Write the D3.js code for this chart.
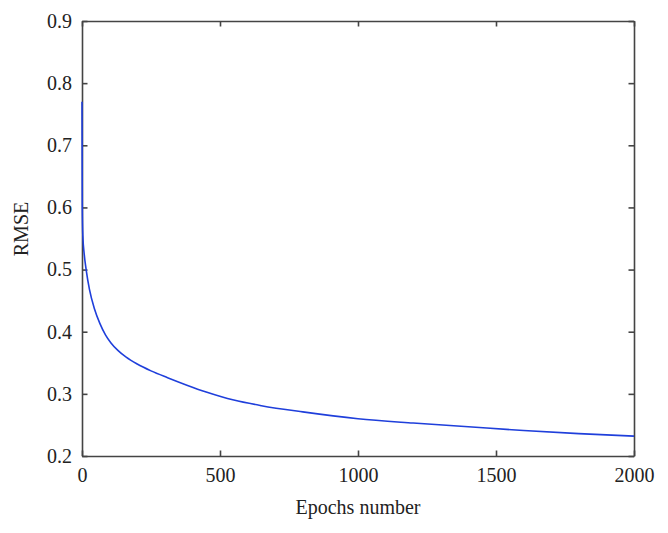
<!DOCTYPE html>
<html>
<head>
<meta charset="utf-8">
<script src="https://cdn.jsdelivr.net/npm/d3@7"></script>
<style>
  body { margin: 0; background: #fff; }
  svg text { font-family: "Liberation Serif", "DejaVu Serif", serif; fill: #222; }
</style>
</head>
<body>
<div id="chart"></div>
<script>
// Data
const epochs = [0, 1, 3, 8, 15, 27, 45, 65, 85, 105, 130, 160, 200, 250, 310, 380, 450, 550, 650, 800, 1000, 1200, 1400, 1600, 1800, 2000]
const rmse = [0.77, 0.60, 0.555, 0.525, 0.50, 0.468, 0.437, 0.413, 0.395, 0.382, 0.370, 0.359, 0.348, 0.337, 0.326, 0.314, 0.303, 0.290, 0.281, 0.271, 0.260, 0.253, 0.247, 0.241, 0.236, 0.232]
const xTicks = [0, 500, 1000, 1500, 2000]
const yTicks = [0.2, 0.3, 0.4, 0.5, 0.6, 0.7, 0.8, 0.9]

const width = 668, height = 533
const margin = {top: 21, right: 34, bottom: 77, left: 82}

const svg = d3.select("#chart").append("svg")
   .attr("width", width)
   .attr("height", height)

const x = d3.scaleLinear().domain([0, 2000]).range([margin.left, width - margin.right])
const y = d3.scaleLinear().domain([0.2, 0.9]).range([height - margin.bottom, margin.top])

const tickLen = 5.5
const axisColor = "#444"

// Inward ticks on all four sides, MATLAB-style box
svg.append("g")
   .attr("transform", `translate(0,${y(0.2)})`)
   .call(d3.axisBottom(x).tickValues(xTicks).tickSizeInner(-tickLen).tickSizeOuter(0).tickPadding(12).tickFormat(d3.format("d")))
svg.append("g")
   .attr("transform", `translate(0,${y(0.9)})`)
   .call(d3.axisTop(x).tickValues(xTicks).tickSizeInner(-tickLen).tickSizeOuter(0).tickFormat(""))
svg.append("g")
   .attr("transform", `translate(${x(0)},0)`)
   .call(d3.axisLeft(y).tickValues(yTicks).tickSizeInner(-tickLen).tickSizeOuter(0).tickPadding(10).tickFormat(d3.format(".1f")))
svg.append("g")
   .attr("transform", `translate(${x(2000)},0)`)
   .call(d3.axisRight(y).tickValues(yTicks).tickSizeInner(-tickLen).tickSizeOuter(0).tickFormat(""))

svg.selectAll(".domain").attr("stroke", axisColor).attr("stroke-width", 1.6)
svg.selectAll(".tick line").attr("stroke", axisColor).attr("stroke-width", 1.6)
svg.selectAll(".tick text").attr("font-size", 20).attr("fill", "#222")
   .style("font-family", "'Liberation Serif', 'DejaVu Serif', serif")

// Curve
const pts = epochs.map((e, i) => [e, rmse[i]])
svg.append("path")
   .datum(pts)
   .attr("fill", "none")
   .attr("stroke", "#1f3fdb")
   .attr("stroke-width", 1.6)
   .attr("d", d3.line().x(d => x(d[0])).y(d => y(d[1])).curve(d3.curveMonotoneX))

// Axis labels
svg.append("text")
   .attr("x", (x(0) + x(2000)) / 2)
   .attr("y", 514)
   .attr("text-anchor", "middle")
   .attr("font-size", 20)
   .text("Epochs number")

svg.append("text")
   .attr("transform", `translate(28,229) rotate(-90)`)
   .attr("text-anchor", "middle")
   .attr("font-size", 20)
   .text("RMSE")
</script>
</body>
</html>
